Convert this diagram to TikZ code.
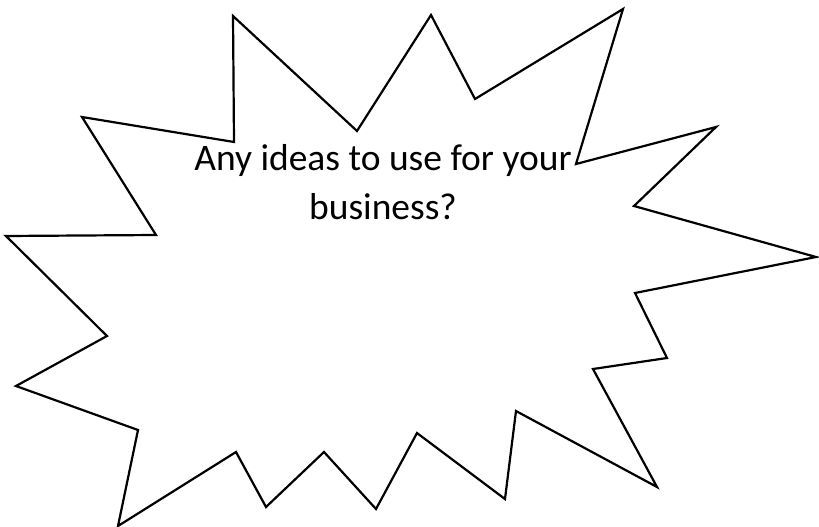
\documentclass[tikz,border=0pt]{standalone}
\usepackage{fontspec}
\setmainfont{Carlito}
\tikzset{
  burst/.style={draw=black, line width=2.2pt, line join=miter, fill=white},
  label/.style={inner sep=0pt, anchor=base, font=\fontsize{37.5}{44}\selectfont}
}
\begin{document}
\begin{tikzpicture}[x=1pt,y=-1pt]
\useasboundingbox (0,0) rectangle (819,527);
\draw[burst] (233,16) -- (357,131) -- (431,15) -- (475,99) -- (623,9) -- (576,164)
  -- (716,127) -- (634,206) -- (816,257) -- (635,293) -- (667,358) -- (593,369)
  -- (657,487) -- (516,411) -- (505,499) -- (417,433) -- (376,509) -- (324,452)
  -- (266,507) -- (236,452) -- (118,526) -- (138,430) -- (16,386) -- (107,336)
  -- (6,236) -- (156,235) -- (82,117) -- (234,142) -- cycle;
\node[label] (line1) at (383,170) {Any ideas to use for your};
\node[label] (line2) at (383,219) {business?};
\end{tikzpicture}
\end{document}
